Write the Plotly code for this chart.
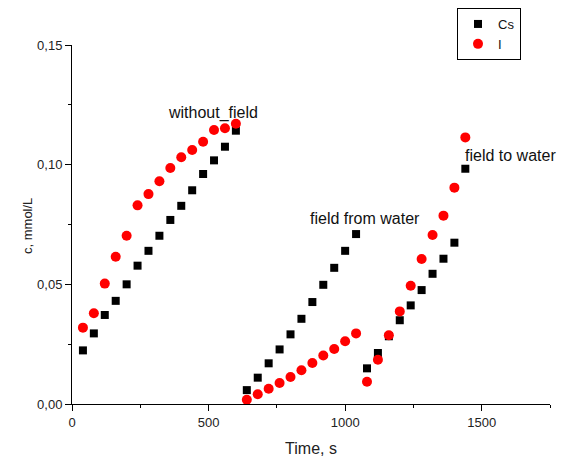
import plotly.graph_objects as go

# Cs (squares)
cs_x = [40, 80, 120, 160, 200, 240, 280, 320, 360, 400, 440, 480, 520, 560, 600,
        640, 680, 720, 760, 800, 840, 880, 920, 960, 1000, 1040,
        1080, 1120, 1160, 1200, 1240, 1280, 1320, 1360, 1400, 1440]
cs_y = [0.0224, 0.0295, 0.0372, 0.0431, 0.0500, 0.0578, 0.0640, 0.0703, 0.0769, 0.0828,
        0.0893, 0.0961, 0.1018, 0.1075, 0.1142,
        0.0058, 0.0110, 0.0170, 0.0228, 0.0291, 0.0356, 0.0426, 0.0498, 0.0569, 0.0640, 0.0710,
        0.0149, 0.0213, 0.0283, 0.0350, 0.0412, 0.0476, 0.0544, 0.0607, 0.0674, 0.0983]

# I (circles)
i_x = cs_x
i_y = [0.0319, 0.0379, 0.0503, 0.0615, 0.0703, 0.0830, 0.0877, 0.0931, 0.0986, 0.1031,
       0.1061, 0.1096, 0.1145, 0.1152, 0.1171,
       0.0018, 0.0041, 0.0064, 0.0088, 0.0113, 0.0141, 0.0171, 0.0203, 0.0230, 0.0262, 0.0295,
       0.0093, 0.0185, 0.0287, 0.0387, 0.0494, 0.0606, 0.0706, 0.0787, 0.0904, 0.1114]

labels = ["without_field", "field from water", "field to water"]
label_x = [515, 1073, 1606]
label_y = [0.1216, 0.0777, 0.104]

FONT = "Liberation Sans, Arial, sans-serif"

fig = go.Figure()
fig.add_trace(go.Scatter(x=cs_x, y=cs_y, mode="markers", name="Cs",
                         marker=dict(symbol="square", size=8, color="black"),
                         cliponaxis=False))
fig.add_trace(go.Scatter(x=i_x, y=i_y, mode="markers", name="I",
                         marker=dict(symbol="circle", size=10, color="#ff0000"),
                         cliponaxis=False))

for t, x, y in zip(labels, label_x, label_y):
    fig.add_annotation(x=x, y=y, xref="x", yref="y", text=t, showarrow=False,
                       font=dict(family=FONT, size=16, color="#111111"))

# y-axis title placed as rotated text
fig.add_annotation(x=(28 - 72) / 478, y=(404 - 226) / 359, xref="paper", yref="paper",
                   text="c, mmol/L", textangle=-90, showarrow=False,
                   xanchor="center", yanchor="middle",
                   font=dict(family=FONT, size=13, color="#222222"))

axis_common = dict(showline=True, linecolor="black", linewidth=1, ticks="outside",
                   ticklen=6, tickcolor="black", showgrid=False, zeroline=False,
                   mirror=False, automargin=False,
                   tickfont=dict(family=FONT, size=13, color="#222222"))

fig.update_xaxes(range=[0, 1750], tickvals=[0, 500, 1000, 1500], tickformat="d",
                 minor=dict(ticks="outside", ticklen=3, tickcolor="black", dtick=250, tick0=0),
                 title=dict(text="Time, s", font=dict(family=FONT, size=16, color="#222222"),
                            standoff=15),
                 **axis_common)
fig.update_yaxes(range=[0, 0.15], tickvals=[0, 0.05, 0.10, 0.15],
                 ticktext=["0,00", "0,05", "0,10", "0,15"],
                 minor=dict(ticks="outside", ticklen=3, tickcolor="black", dtick=0.025, tick0=0),
                 **axis_common)

fig.update_layout(
    width=562, height=457,
    margin=dict(l=72, r=12, t=45, b=53, autoexpand=False),
    plot_bgcolor="white", paper_bgcolor="white",
    font=dict(family=FONT, size=13, color="#222222"),
    legend=dict(x=(457 - 72) / 478, y=(404 - 8) / 359, xanchor="left", yanchor="top",
                bordercolor="black", borderwidth=1, bgcolor="white",
                font=dict(family=FONT, size=13, color="#111111"),
                tracegroupgap=0, itemwidth=30),
    showlegend=True,
)

fig.write_html("out.html", config={"displayModeBar": False},
               post_script="document.body.style.margin='0';document.body.style.padding='0';")
